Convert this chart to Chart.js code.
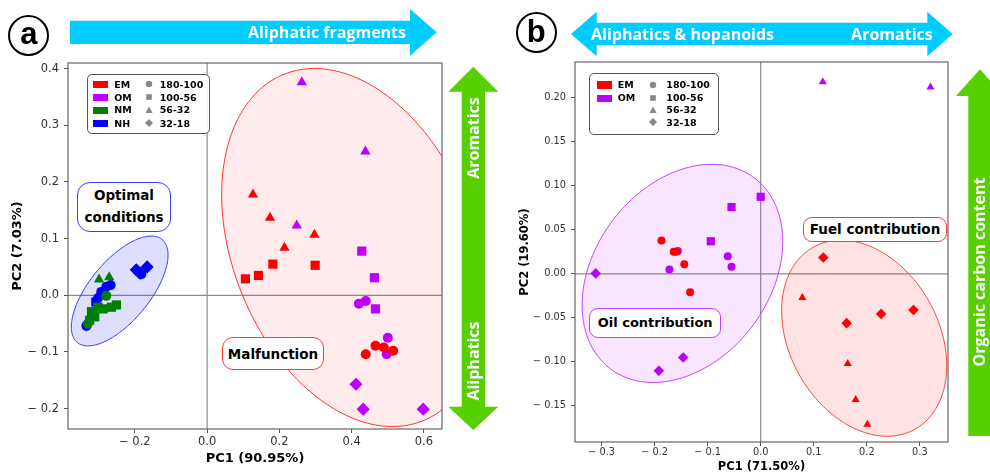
<!DOCTYPE html>
<html><head><meta charset="utf-8">
<script src="https://cdn.jsdelivr.net/npm/chart.js@4.4.1/dist/chart.umd.min.js"></script>
<style>
html,body{margin:0;padding:0;background:#fff;overflow:hidden;width:990px;height:472px;}
#wrap{position:relative;width:990px;height:472px;overflow:hidden;}
canvas{position:absolute;top:0;}
.t{position:absolute;white-space:nowrap;line-height:1;}
.box{position:absolute;box-sizing:border-box;background:#fff;border-radius:11px;display:flex;align-items:center;justify-content:center;text-align:center;font-family:'DejaVu Sans',sans-serif;font-weight:bold;color:#000;}
.arr{position:absolute;white-space:nowrap;font-family:'Open Sans',sans-serif;font-weight:700;color:#fff;font-size:16px;line-height:1;}
.leg{position:absolute;box-sizing:border-box;border:1px solid #555;border-radius:5px;background:rgba(255,255,255,0.9);font-family:'DejaVu Sans',sans-serif;font-weight:bold;font-size:9.5px;color:#000;}
.leg div{position:absolute;line-height:1;white-space:nowrap;}
.circ{position:absolute;box-sizing:border-box;border:2px solid #000;border-radius:50%;display:flex;align-items:center;justify-content:center;font-family:'Liberation Sans',Arial,sans-serif;font-weight:bold;color:#000;}
</style></head>
<body><div id="wrap">
<canvas id="ca" width="495" height="472" style="left:0;width:495px;height:472px"></canvas>
<canvas id="cb" width="495" height="474" style="left:495px;width:495px;height:474px"></canvas>
<svg id="ov" width="990" height="472" style="position:absolute;left:0;top:0;pointer-events:none">
  <polygon fill="#00ccff" points="70,20.7 410,20.7 410,9 436.7,32.3 410,55.7 410,44 70,44"/>
  <polygon fill="#00ccff" points="571,34 596.7,11.7 596.7,22.7 927.3,22.7 927.3,11.7 952.7,34 927.3,56.3 927.3,45.3 596.7,45.3 596.7,56.3"/>
  <polygon fill="#56d000" points="473.3,66.7 498.3,91.7 485,91.7 485,406.7 498.3,406.7 473.3,430 448.3,406.7 461.7,406.7 461.7,91.7 448.3,91.7"/>
  <polygon fill="#56d000" points="980,69.3 1004,96 991.7,96 991.7,436 968.3,436 968.3,96 956,96"/>
</svg>
<div id="ann"></div>
</div>
<script>
// ---------- Panel (a) data ----------
const groupsA = ['EM', 'OM', 'NM', 'NH'];
const rangesA = ['180-100', '100-56', '56-32', '32-18'];
const xTicksA = [-0.2, 0.0, 0.2, 0.4, 0.6];
const yTicksA = [-0.2, -0.1, 0.0, 0.1, 0.2, 0.3, 0.4];

const A_EM_circle   = [[0.439,-0.104],[0.466,-0.089],[0.489,-0.092],[0.515,-0.098]];
const A_EM_square   = [[0.106,0.029],[0.142,0.035],[0.182,0.055],[0.299,0.053]];
const A_EM_triangle = [[0.127,0.178],[0.174,0.137],[0.214,0.084],[0.297,0.107]];
const A_OM_circle   = [[0.420,-0.015],[0.439,-0.010],[0.500,-0.075],[0.497,-0.104]];
const A_OM_square   = [[0.428,0.078],[0.463,0.031],[0.466,-0.024]];
const A_OM_triangle = [[0.262,0.376],[0.438,0.254],[0.248,0.123]];
const A_OM_diamond  = [[0.412,-0.157],[0.432,-0.201],[0.598,-0.201]];
const A_NM_circle   = [[-0.279,-0.001],[-0.330,-0.050]];
const A_NM_square   = [[-0.251,-0.017],[-0.265,-0.021],[-0.302,-0.021],[-0.320,-0.029],[-0.311,-0.038],[-0.325,-0.044],[-0.288,-0.024]];
const A_NM_triangle = [[-0.299,0.028],[-0.271,0.032]];
const A_NH_circle   = [[-0.334,-0.054],[-0.302,-0.005],[-0.293,0.006],[-0.279,0.015],[-0.267,0.018],[-0.182,0.037]];
const A_NH_square   = [[-0.318,-0.030],[-0.308,-0.012]];
const A_NH_diamond  = [[-0.196,0.045],[-0.186,0.039],[-0.166,0.050]];

// confidence ellipses (data units): centre, two semi-axis vectors
const ellA_EM = {c:[0.405,0.0843], u:[0.1914,-0.306], v:[0.3105,0.0788]};
const ellA_NMNH = {c:[-0.242,0.0076], u:[0.1173,0.0909], v:[-0.0644,0.0337]};

// ---------- Panel (b) data ----------
const groupsB = ['EM', 'OM'];
const rangesB = ['180-100', '100-56', '56-32', '32-18'];
const xTicksB = [-0.3, -0.2, -0.1, 0.0, 0.1, 0.2, 0.3];
const yTicksB = [-0.15, -0.10, -0.05, 0.00, 0.05, 0.10, 0.15, 0.20];

const B_EM_circle   = [[-0.187,0.038],[-0.164,0.025],[-0.160,0.025],[-0.144,0.011],[-0.133,-0.021]];
const B_EM_triangle = [[0.0785,-0.027],[0.164,-0.102],[0.179,-0.143],[0.201,-0.171]];
const B_EM_diamond  = [[0.118,0.0186],[0.162,-0.056],[0.227,-0.0455],[0.288,-0.041]];
const B_OM_circle   = [[-0.156,0.026],[-0.172,0.005],[-0.062,0.020],[-0.055,0.008]];
const B_OM_square   = [[0.000,0.0875],[-0.055,0.0758],[-0.094,0.037]];
const B_OM_triangle = [[0.117,0.218],[0.320,0.212]];
const B_OM_diamond  = [[-0.311,0.0005],[-0.146,-0.095],[-0.192,-0.110]];

const ellB_OM = {c:[-0.1475,0.0005], u:[0.1355,0.1085], v:[-0.1319,0.0598]};
const ellB_EM = {c:[0.195,-0.0731], u:[0.0955,-0.1035], v:[0.1228,0.0411]};

// ---------- styling ----------
const COL = {EM:'#ff0000', OM:'#bb00ff', NM:'#008000', NH:'#0000ff'};
const STYLE = {circle:'circle', square:'rect', triangle:'triangle', diamond:'rectRot'};

function ds(points, color, shape, r) {
  return {data: points.map(p => ({x:p[0], y:p[1]})), pointStyle: STYLE[shape], pointRadius: r,
          pointHoverRadius: r, backgroundColor: color, borderColor: color, borderWidth: 0, showLine: false};
}
function fmt(v, d) {
  if (Math.abs(v) < 1e-9) return (0).toFixed(d);
  return v < 0 ? '\u2212 ' + Math.abs(v).toFixed(d) : v.toFixed(d);
}

function overlay(ellipses) {
  return {
    id: 'ovl',
    beforeDatasetsDraw(chart) {
      const {ctx, chartArea: a, scales: {x, y}} = chart;
      ctx.save();
      ctx.beginPath(); ctx.rect(a.left, a.top, a.right - a.left, a.bottom - a.top); ctx.clip();
      ctx.strokeStyle = '#8c8c8c'; ctx.lineWidth = 1.2;
      const x0 = x.getPixelForValue(0), y0 = y.getPixelForValue(0);
      ctx.beginPath(); ctx.moveTo(x0, a.top); ctx.lineTo(x0, a.bottom);
      ctx.moveTo(a.left, y0); ctx.lineTo(a.right, y0); ctx.stroke();
      for (const e of ellipses) {
        ctx.beginPath();
        for (let i = 0; i <= 240; i++) {
          const t = i / 240 * 2 * Math.PI;
          const dx = e.c[0] + Math.cos(t) * e.u[0] + Math.sin(t) * e.v[0];
          const dy = e.c[1] + Math.cos(t) * e.u[1] + Math.sin(t) * e.v[1];
          const px = x.getPixelForValue(dx), py = y.getPixelForValue(dy);
          if (i === 0) ctx.moveTo(px, py); else ctx.lineTo(px, py);
        }
        ctx.closePath();
        ctx.fillStyle = e.fill; ctx.fill();
        ctx.strokeStyle = e.stroke; ctx.lineWidth = 1; ctx.stroke();
      }
      ctx.restore();
    },
    afterDatasetsDraw(chart) {
      const {ctx, chartArea: a} = chart;
      ctx.save(); ctx.strokeStyle = '#666'; ctx.lineWidth = 1.2;
      ctx.strokeRect(a.left, a.top, a.right - a.left, a.bottom - a.top);
      ctx.restore();
    }
  };
}

function axis(cfg) {
  return {
    type: 'linear', min: cfg.min, max: cfg.max,
    afterBuildTicks: s => { s.ticks = cfg.ticks.map(v => ({value: v})); },
    afterFit: s => { if (cfg.w !== undefined) s.width = cfg.w; if (cfg.h !== undefined) s.height = cfg.h; },
    grid: {display: true, drawOnChartArea: false, drawTicks: true, tickLength: 4, color: '#555', lineWidth: 1},
    border: {display: false},
    ticks: {autoSkip: false, maxRotation: 0, color: '#333', padding: cfg.tpad,
            font: {family: 'DejaVu Sans', size: cfg.fs}, callback: v => fmt(v, cfg.dec)},
    title: {display: true, text: cfg.title, color: '#000', padding: cfg.titlePad,
            font: {family: 'DejaVu Sans', size: cfg.tfs, weight: 'bold'}}
  };
}

function makeChart(id, datasets, ellipses, o) {
  return new Chart(document.getElementById(id), {
    type: 'scatter',
    data: {datasets},
    options: {
      responsive: false, animation: false, events: [],
      layout: {padding: o.pad},
      plugins: {legend: {display: false}, tooltip: {enabled: false}},
      scales: {x: axis(o.x), y: axis(o.y)}
    },
    plugins: [overlay(ellipses)]
  });
}

// ---------- Chart (a) ----------
const dsA = [
  ds(A_EM_circle, COL.EM, 'circle', 5), ds(A_EM_square, COL.EM, 'square', 6.5),
  ds(A_EM_triangle, COL.EM, 'triangle', 6),
  ds(A_OM_circle, COL.OM, 'circle', 5), ds(A_OM_square, COL.OM, 'square', 6.5),
  ds(A_OM_triangle, COL.OM, 'triangle', 6), ds(A_OM_diamond, COL.OM, 'diamond', 6.6),
  ds(A_NM_circle, COL.NM, 'circle', 5), ds(A_NM_square, COL.NM, 'square', 6.5),
  ds(A_NM_triangle, COL.NM, 'triangle', 6),
  ds(A_NH_circle, COL.NH, 'circle', 5), ds(A_NH_square, COL.NH, 'square', 6.5),
  ds(A_NH_diamond, COL.NH, 'diamond', 6.6)
];
makeChart('ca', dsA, [
  Object.assign({fill: 'rgba(255,0,0,0.08)', stroke: '#ff3030'}, ellA_EM),
  Object.assign({fill: 'rgba(0,0,255,0.13)', stroke: '#3030ff'}, ellA_NMNH)
], {
  pad: {left: 5.5, right: 53, top: 63, bottom: 0},
  x: {min: -0.385, max: 0.65, ticks: xTicksA, dec: 1, fs: 11.5, tpad: 2, h: 43,
      title: 'PC1 (90.95%)', tfs: 13, titlePad: {top: 0, bottom: 5.5}},
  y: {min: -0.236, max: 0.41, ticks: yTicksA, dec: 1, fs: 11.5, tpad: 5, w: 62.5,
      title: 'PC2 (7.03%)', tfs: 13, titlePad: {top: 4, bottom: 0}}
});

// ---------- Chart (b) ----------
const dsB = [
  ds(B_EM_circle, COL.EM, 'circle', 4), ds(B_EM_triangle, COL.EM, 'triangle', 4.7),
  ds(B_EM_diamond, COL.EM, 'diamond', 5.3),
  ds(B_OM_circle, COL.OM, 'circle', 4), ds(B_OM_square, COL.OM, 'square', 5.8),
  ds(B_OM_triangle, COL.OM, 'triangle', 4.7), ds(B_OM_diamond, COL.OM, 'diamond', 5.3)
];
makeChart('cb', dsB, [
  Object.assign({fill: 'rgba(191,0,255,0.1)', stroke: '#c040ff'}, ellB_OM),
  Object.assign({fill: 'rgba(255,0,0,0.11)', stroke: '#ff4040'}, ellB_EM)
], {
  pad: {left: 19, right: 42, top: 62, bottom: 0},
  x: {min: -0.35, max: 0.353, ticks: xTicksB, dec: 1, fs: 9.8, tpad: 1, h: 32,
      title: 'PC1 (71.50%)', tfs: 11.5, titlePad: {top: 0, bottom: 0}},
  y: {min: -0.191, max: 0.2406, ticks: yTicksB, dec: 2, fs: 9.8, tpad: 5, w: 61,
      title: 'PC2 (19.60%)', tfs: 11.5, titlePad: {top: 4, bottom: 0}}
});

// ---------- annotations (HTML text) ----------
const ann = document.getElementById('ann');
function el(cls, html, css) {
  const d = document.createElement('div'); d.className = cls; d.innerHTML = html;
  Object.assign(d.style, css); ann.appendChild(d); return d;
}
// arrow texts
el('arr', 'Aliphatic fragments', {right: (990 - 406) + 'px', top: '32.3px', transform: 'translateY(-50%)'});
el('arr', 'Aliphatics &amp; hopanoids', {left: '591px', top: '33.5px', transform: 'translateY(-50%)'});
el('arr', 'Aromatics', {right: (990 - 932.7) + 'px', top: '33.5px', transform: 'translateY(-50%)'});
el('arr', 'Aromatics', {left: '473.3px', top: '137.5px', transform: 'translate(-50%,-50%) rotate(-90deg)'});
el('arr', 'Aliphatics', {left: '473.3px', top: '361px', transform: 'translate(-50%,-50%) rotate(-90deg)'});
el('arr', 'Organic carbon content', {left: '979px', top: '272px', transform: 'translate(-50%,-50%) rotate(-90deg)'});
// panel letters
el('circ', 'a', {left: '8.3px', top: '14.5px', width: '41px', height: '41px', fontSize: '31px', paddingBottom: '3px'});
el('circ', 'b', {left: '515.7px', top: '12.3px', width: '41px', height: '41px', fontSize: '31px', paddingBottom: '1px'});
// boxes
el('box', 'Optimal<br>conditions', {left: '77.3px', top: '181.7px', width: '93.4px', height: '50px',
  border: '1.2px solid #3a3aff', fontSize: '13.5px', lineHeight: '21.5px', borderRadius: '13px'});
el('box', 'Malfunction', {left: '222.3px', top: '337.3px', width: '101.4px', height: '32.7px',
  border: '1.2px solid #ff3a3a', fontSize: '13.5px'});
el('box', 'Fuel contribution', {left: '803.3px', top: '216.7px', width: '143.4px', height: '25.5px',
  border: '1.2px solid #ff3a3a', fontSize: '13.5px', borderRadius: '9px'});
el('box', 'Oil contribution', {left: '589px', top: '307.7px', width: '132.3px', height: '30px',
  border: '1.2px solid #c040ff', fontSize: '13px', borderRadius: '9px'});

// legends
const MK = {
  circle: '<svg width="8" height="8"><circle cx="4" cy="4" r="3.2" fill="#888"/></svg>',
  square: '<svg width="8" height="8"><rect x="1.2" y="1.2" width="5.6" height="5.6" fill="#888"/></svg>',
  triangle: '<svg width="8" height="8"><polygon points="4,0.6 7.6,7 0.4,7" fill="#888"/></svg>',
  diamond: '<svg width="8" height="8"><polygon points="4,0 8,4 4,8 0,4" fill="#888"/></svg>'
};
const SHAPES = ['circle', 'square', 'triangle', 'diamond'];
function legend(x, y, w, h, groups, ranges, rows, px, lx, mx, mlx) {
  const L = document.createElement('div'); L.className = 'leg';
  Object.assign(L.style, {left: x + 'px', top: y + 'px', width: w + 'px', height: h + 'px'});
  groups.forEach((g, i) => {
    const p = document.createElement('div');
    Object.assign(p.style, {left: px + 'px', top: (rows[i] - 3.6) + 'px', width: '15px', height: '7.3px', background: COL[g]});
    L.appendChild(p);
    const t = document.createElement('div'); t.textContent = g;
    Object.assign(t.style, {left: lx + 'px', top: (rows[i] - 5) + 'px'});
    L.appendChild(t);
  });
  ranges.forEach((r, i) => {
    const m = document.createElement('div'); m.innerHTML = MK[SHAPES[i]];
    Object.assign(m.style, {left: (mx - 4) + 'px', top: (rows[i] - 4.5) + 'px', height: '8px'});
    L.appendChild(m);
    const t = document.createElement('div'); t.textContent = r;
    Object.assign(t.style, {left: mlx + 'px', top: (rows[i] - 5) + 'px'});
    L.appendChild(t);
  });
  ann.appendChild(L);
}
legend(86.7, 74, 123.3, 60.3, groupsA, rangesA, [9.5, 22.5, 35.3, 48.5], 5, 26.5, 61, 72);
legend(589.3, 73.3, 129.7, 61.7, groupsB, rangesB, [10.8, 24.2, 36, 48.5], 6.3, 27.5, 63, 76);
</script>
</body></html>
